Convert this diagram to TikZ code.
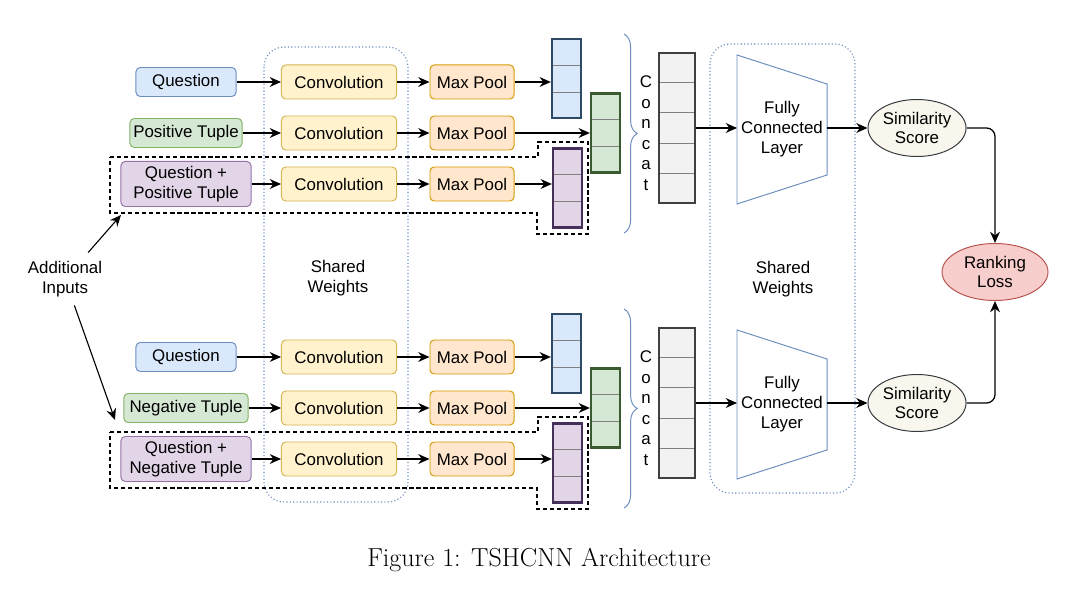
\documentclass[tikz,border=0pt]{standalone}
\usepackage{fontspec}
\setsansfont{Liberation Sans}
\usetikzlibrary{arrows.meta,calc,shapes.geometric,decorations.pathreplacing}
\definecolor{qblue}{HTML}{DAE8FC}
\definecolor{qbluel}{HTML}{6C8EBF}
\definecolor{tgreen}{HTML}{D5E8D4}
\definecolor{tgreenl}{HTML}{82B366}
\definecolor{qpurple}{HTML}{E1D5E7}
\definecolor{qpurplel}{HTML}{9673A6}
\definecolor{convfill}{HTML}{FFF2CC}
\definecolor{convline}{HTML}{D6B656}
\definecolor{poolfill}{HTML}{FFE6CC}
\definecolor{poolline}{HTML}{D79B00}
\definecolor{qvline}{HTML}{2E4A66}
\definecolor{tvline}{HTML}{3A5A2F}
\definecolor{pvline}{HTML}{45305A}
\definecolor{concatfill}{HTML}{F2F2F2}
\definecolor{concatline}{HTML}{404040}
\definecolor{simfill}{HTML}{F9F7ED}
\definecolor{simline}{HTML}{36393D}
\definecolor{rankfill}{HTML}{F8CECC}
\definecolor{rankline}{HTML}{B85450}

\begin{document}
\begin{tikzpicture}[x=0.025cm,y=-0.025cm,
    font=\sffamily\fontsize{12}{14}\selectfont,
    >={Stealth[length=8pt,width=7pt]},
    arr/.style={->,line width=0.9pt},
    box/.style={draw,rounded corners=3pt,line width=0.7pt,minimum height=0.725cm,inner sep=1pt},
    convbox/.style={box,fill=convfill,draw=convline,minimum width=2.875cm,minimum height=0.85cm},
    poolbox/.style={box,fill=poolfill,draw=poolline,minimum width=2.1cm,minimum height=0.85cm},
    vec/.style={draw,line width=1.6pt,minimum width=0.725cm,minimum height=1.975cm,inner sep=0},
    cell/.style={gray,line width=0.6pt,shorten <=1.6pt,shorten >=1.6pt},
    shared/.style={draw=qbluel,line width=0.8pt,dash pattern=on 0.8pt off 1.6pt,rounded corners=0.5cm},
    extra/.style={line width=0.9pt,dash pattern=on 3pt off 2pt},
    score/.style={ellipse,draw=simline,fill=simfill,line width=0.7pt,minimum width=2.45cm,
        minimum height=1.425cm,inner sep=0,align=center}]
\useasboundingbox (0,0) rectangle (1080,603);

% shared weights
\draw[shared] (264,47) rectangle (408,502);
\draw[shared] (710,44) rectangle (855,493);
\node[align=center] (sw1) at (338,278) {Shared\\Weights};
\node[align=center] (sw2) at (783,279) {Shared\\Weights};

\foreach \g/\dy/\tup/\tw in {1/0/Positive/2.8cm,2/275/Negative/3.1cm} {
\begin{scope}[shift={(0,\dy)}]
    \node[box,fill=qblue,draw=qbluel,minimum width=2.5cm] (q\g) at (186,82) {Question};
    \node[box,fill=tgreen,draw=tgreenl,minimum width=\tw] (t\g) at (186,133) {\tup{} Tuple};
    \node[box,fill=qpurple,draw=qpurplel,minimum width=3.25cm,minimum height=1.125cm,align=center]
        (qt\g) at (186,184) {Question +\\\tup{} Tuple};
    \foreach \r/\ry in {1/82,2/133,3/184} {
        \node[convbox] (c\g\r) at (339,\ry) {Convolution};
        \node[poolbox] (m\g\r) at (472,\ry) {Max Pool};
        \draw[arr] (c\g\r) -- (m\g\r);
    }
    \draw[arr] (q\g) -- (c\g1);
    \draw[arr] (t\g) -- (c\g2);
    \draw[arr] (qt\g) -- (c\g3);

    % pooled vectors
    \node[vec,fill=qblue,draw=qvline] (qv\g) at (566.5,78.5) {};
    \node[vec,fill=tgreen,draw=tvline] (tv\g) at (605.5,133) {};
    \node[vec,fill=qpurple,draw=pvline] (pv\g) at (567.5,188) {};
    \foreach \v in {qv,tv,pv} \foreach \k in {1,2}
        \draw[cell] ($(\v\g.north west)!\k/3!(\v\g.south west)$) -- ($(\v\g.north east)!\k/3!(\v\g.south east)$);
    \draw[arr] (m\g1) -- (m\g1 -| qv\g.west);
    \draw[arr] (m\g2) -- (tv\g);
    \draw[arr] (m\g3) -- (m\g3 -| pv\g.west);
    \draw[extra] (110,157) -- (538,157) -- (538,142) -- (588,142) -- (588,234)
        -- (537,234) -- (537,213) -- (110,213) -- cycle;

    % concat
    \draw[qbluel,line width=0.7pt,decorate,decoration={brace,amplitude=0.33cm}] (624,34) -- (624,233);
    \node[align=center,font=\sffamily\fontsize{12}{14.6}\selectfont] (cc\g) at (646,133) {C\\o\\n\\c\\a\\t};
    \node[vec,fill=concatfill,draw=concatline,minimum width=0.9cm,minimum height=3.75cm] (cv\g) at (677,128) {};
    \foreach \k in {1,...,4}
        \draw[cell] ($(cv\g.north west)!\k/5!(cv\g.south west)$) -- ($(cv\g.north east)!\k/5!(cv\g.south east)$);

    % fully connected
    \draw[qbluel,line width=0.7pt] (737,55) -- (827,84) -- (827,175) -- (737,204) -- cycle;
    \node[align=center] (fc\g) at (782,129) {Fully\\Connected\\Layer};
    \coordinate (fcin\g) at (737,128);
    \coordinate (fcout\g) at (827,128);
    \node[score] (ss\g) at (917,128) {Similarity\\Score};
    \draw[arr] (cv\g) -- (fcin\g);
    \draw[arr] (fcout\g) -- (ss\g);
\end{scope}
}

\node[score,fill=rankfill,draw=rankline,minimum width=2.65cm] (rl) at (995,272) {Ranking\\Loss};
\draw[arr,rounded corners=6pt] (ss1) -| (rl);
\draw[arr,rounded corners=6pt] (ss2) -| (rl);

% additional inputs
\node[align=center,inner sep=6pt] (ai) at (65,279) {Additional\\Inputs};
\coordinate (ai1) at (121,215);
\coordinate (ai2) at (115,420);
\draw[arr,line width=0.8pt] (ai) -- (ai1);
\draw[arr,line width=0.8pt] (ai) -- (ai2);

\node[font=\rmfamily\fontsize{18.5}{22}\selectfont,anchor=base] (cap) at (539,566) {Figure 1: TSHCNN Architecture};
\end{tikzpicture}
\end{document}
